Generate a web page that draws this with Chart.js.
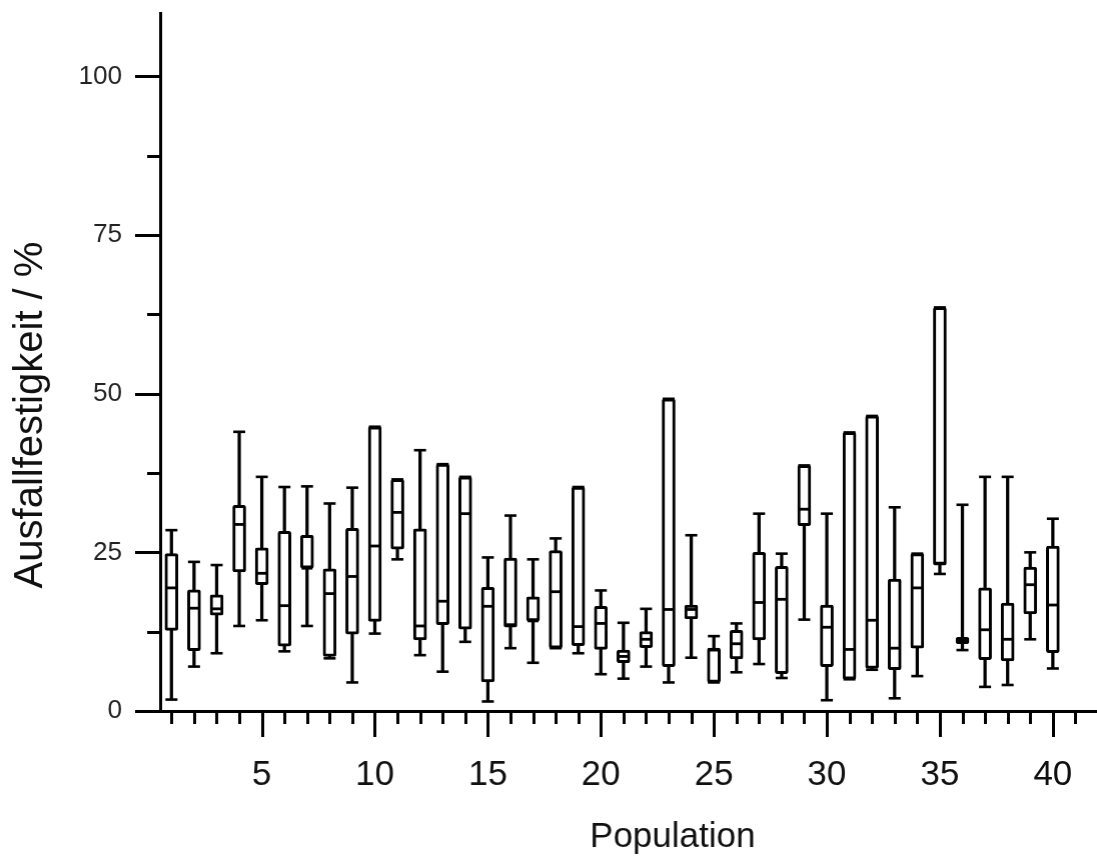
<!DOCTYPE html>
<html>
<head>
<meta charset="utf-8">
<script src="https://cdn.jsdelivr.net/npm/chart.js@4.4.1/dist/chart.umd.min.js"></script>
<style>
html,body{margin:0;padding:0;background:#fff;overflow:hidden;}
#wrap{width:1097px;height:859px;position:relative;}
</style>
</head>
<body>
<div id="wrap"><canvas id="c"></canvas></div>
<script>
// ---- data ----
const populations = [1,2,3,4,5,6,7,8,9,10,11,12,13,14,15,16,17,18,19,20,21,22,23,24,25,26,27,28,29,30,31,32,33,34,35,36,37,38,39,40];
const whiskerLow  = [1.8,7.0,9.1,13.4,14.3,9.4,13.4,8.3,4.5,12.2,23.9,8.8,6.2,10.9,1.5,9.9,7.6,9.9,9.1,5.8,5.1,7.0,4.5,8.4,4.5,6.1,7.4,5.2,14.4,1.7,5.0,6.5,2.0,5.5,21.6,9.6,3.8,4.1,11.3,6.7];
const q1          = [12.7,9.5,15.1,21.9,19.9,10.2,22.5,8.6,12.1,14.1,25.5,11.2,13.6,12.9,4.6,13.2,14.2,9.9,10.3,9.7,7.6,10.0,7.0,14.5,4.5,8.2,11.2,5.9,29.2,7.0,5.0,6.7,6.5,9.9,23.0,10.6,8.1,7.9,15.3,9.2];
const median      = [19.4,16.2,16.1,29.4,21.7,16.6,22.5,18.5,21.2,26.0,31.3,13.4,17.3,31.1,16.5,13.6,14.2,18.8,13.3,13.8,8.6,11.3,16.0,16.0,9.6,10.6,17.1,17.6,31.8,13.2,9.7,14.3,9.9,19.4,23.3,11.1,12.8,11.3,19.9,16.7];
const q3          = [24.8,19.1,18.3,32.4,25.7,28.3,27.7,22.4,28.8,44.8,36.5,28.7,38.9,36.9,19.5,24.1,18.0,25.3,35.3,16.5,9.6,12.5,49.2,16.7,9.9,12.7,25.0,22.8,38.7,16.7,43.9,46.5,20.8,24.8,63.6,11.6,19.4,17.0,22.7,26.0];
const whiskerHigh = [28.5,23.5,23.0,44.0,36.9,35.3,35.4,32.7,35.2,44.8,36.5,41.1,38.9,36.9,24.2,30.8,23.9,27.2,35.3,19.0,13.9,16.1,49.2,27.7,11.8,13.8,31.1,24.8,38.7,31.1,43.9,46.5,32.1,24.8,63.6,32.5,36.9,36.9,25.0,30.3];

const yMajorTicks = [0,25,50,75,100];
const yMinorTicks = [12.5,37.5,62.5,87.5];
const xMajorTicks = [5,10,15,20,25,30,35,40];
const xMinorTicks = [1,2,3,4,6,7,8,9,11,12,13,14,16,17,18,19,21,22,23,24,26,27,28,29,31,32,33,34,36,37,38,39,41,42];
const xTitle = 'Population';
const yTitle = 'Ausfallfestigkeit / %';

// ---- build datasets ----
const whiskerData = populations.map((p,i)=>({x:p, y:[whiskerLow[i], whiskerHigh[i]]}));
const boxData = populations.map((p,i)=>({x:p, y:[q1[i], q3[i]]}));
const capData = populations.map((p,i)=>({x:p, y:whiskerLow[i]})).concat(populations.map((p,i)=>({x:p, y:whiskerHigh[i]})));
const medianData = populations.map((p,i)=>({x:p, y:median[i]}));

const FONT = "'Liberation Sans', Arial, Helvetica, sans-serif";
const PAGE_W = 1097;

const axisDecor = {
  id: 'axisDecor',
  afterDraw(chart) {
    const {ctx, chartArea} = chart;
    const x = chart.scales.x, y = chart.scales.y;
    ctx.save();
    ctx.strokeStyle = '#000';
    ctx.lineWidth = 3;
    ctx.lineCap = 'butt';
    const left = chartArea.left - 1, bottom = chartArea.bottom + 1;
    const yt = (vals, len) => vals.forEach(v => {
      const py = Math.round(y.getPixelForValue(v)) + 0.5;
      ctx.beginPath(); ctx.moveTo(left, py); ctx.lineTo(left - len, py); ctx.stroke();
    });
    const xt = (vals, len) => vals.forEach(v => {
      const px = Math.round(x.getPixelForValue(v)) + 0.5;
      ctx.beginPath(); ctx.moveTo(px, bottom); ctx.lineTo(px, bottom + len); ctx.stroke();
    });
    yt(yMajorTicks, 24); yt(yMinorTicks, 12);
    xt(xMajorTicks, 25); xt(xMinorTicks, 12);
    // axis titles
    ctx.fillStyle = '#111';
    ctx.textAlign = 'center';
    ctx.textBaseline = 'middle';
    ctx.font = '35px ' + FONT;
    ctx.fillText(xTitle, 672, 837);
    ctx.translate(31, 415);
    ctx.rotate(-Math.PI/2);
    ctx.font = '40px ' + FONT;
    ctx.fillText(yTitle, 0, 0);
    ctx.restore();
  }
};

const chart = new Chart(document.getElementById('c'), {
  type: 'bar',
  data: {
    datasets: [
      { type:'line', data: medianData, showLine:false, pointStyle:'line', pointRadius:5.5, pointHoverRadius:5.5,
        pointBorderWidth:2.8, pointBorderColor:'#000', borderColor:'#000', order:0 },
      { type:'line', data: capData, showLine:false, pointStyle:'line', pointRadius:6, pointHoverRadius:6,
        pointBorderWidth:2.6, pointBorderColor:'#000', borderColor:'#000', order:1 },
      { type:'bar', data: boxData, backgroundColor:'#fff', borderColor:'#000', borderWidth:3, borderSkipped:false,
        borderRadius:2, barThickness:13, grouped:false, order:2 },
      { type:'bar', data: whiskerData, backgroundColor:'#000', borderWidth:0, barThickness:2.6, grouped:false, order:3 }
    ]
  },
  options: {
    responsive: true,
    maintainAspectRatio: false,
    animation: false,
    events: [],
    layout: { padding: { top: 13, right: 0, left: 0, bottom: 0 } },
    plugins: { legend: { display:false }, tooltip: { enabled:false } },
    scales: {
      x: {
        type: 'linear', min: 0.5, max: 42, offset: false,
        afterFit: s => { s.height = 148; s.paddingLeft = 0; s.paddingRight = 0; s.paddingTop = 0; s.paddingBottom = 0; },
        afterBuildTicks: s => { s.ticks = xMajorTicks.map(v => ({value:v})); },
        grid: { display:true, drawOnChartArea:false, drawTicks:false, color:'rgba(0,0,0,0)' },
        border: { display:true, color:'#000', width:3 },
        ticks: { padding: 43, color:'#111', font:{ size:35, family:FONT }, maxRotation:0, autoSkip:false }
      },
      y: {
        type: 'linear', min: 0, max: 110,
        afterFit: s => { s.width = 160; s.paddingTop = 0; s.paddingBottom = 0; s.paddingLeft = 0; s.paddingRight = 0; },
        afterBuildTicks: s => { s.ticks = yMajorTicks.map(v => ({value:v})); },
        grid: { display:true, drawOnChartArea:false, drawTicks:false, color:'rgba(0,0,0,0)' },
        border: { display:true, color:'#000', width:3 },
        ticks: { padding: 38, color:'#222', font:{ size:26, family:FONT }, autoSkip:false }
      }
    }
  },
  plugins: [axisDecor]
});

// let the plot area reach the right edge of the page (Chart.js keeps a small right margin)
for (let k = 0; k < 2; k++) {
  const gap = PAGE_W - chart.chartArea.right;
  if (Math.abs(gap) < 0.5) break;
  const wrap = document.getElementById('wrap');
  wrap.style.width = (parseFloat(wrap.style.width || PAGE_W) + gap) + 'px';
  chart.resize();
}
</script>
</body>
</html>
